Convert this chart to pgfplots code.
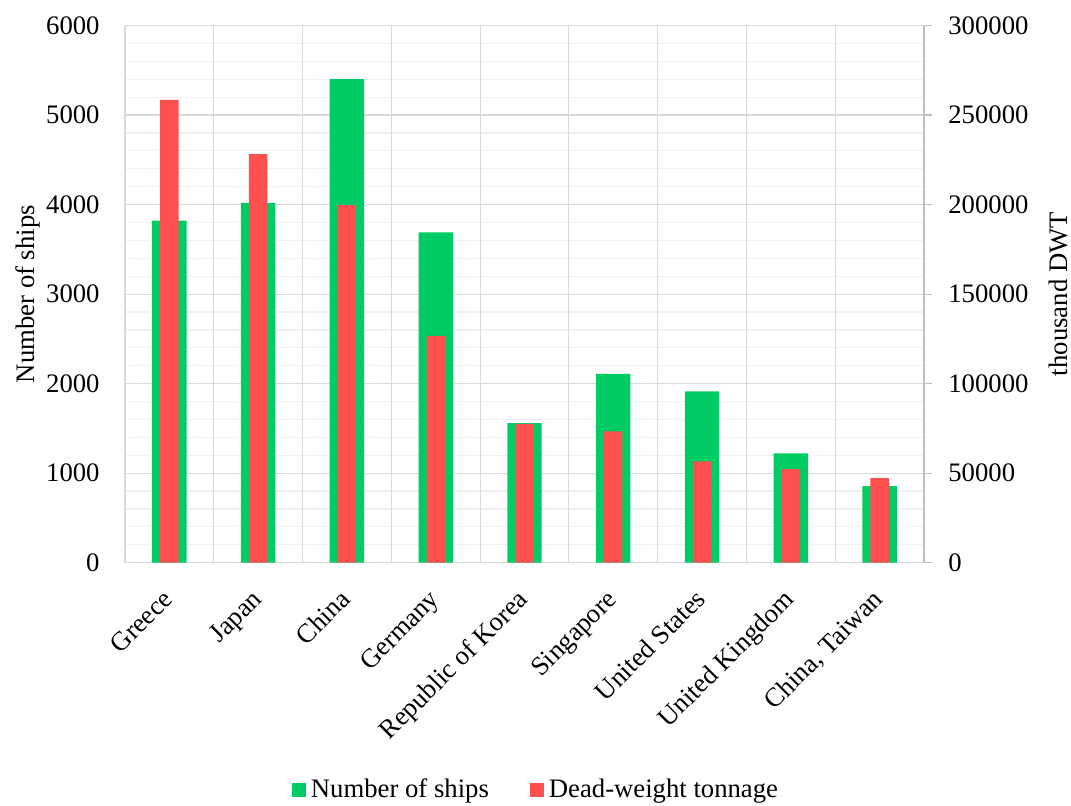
\documentclass[border=0pt]{standalone}
\usepackage{fontspec}
\setmainfont{Liberation Serif}
\usepackage{pgfplots}
\pgfplotsset{compat=1.18}

\definecolor{shipgreen}{RGB}{0,204,102}
\definecolor{dwtred}{RGB}{255,80,80}
\definecolor{gridmajor}{RGB}{217,217,217}
\definecolor{gridminor}{RGB}{240,240,240}
\definecolor{axisgray}{RGB}{191,191,191}

\begin{document}
\begin{tikzpicture}[font=\fontsize{13.35}{16}\selectfont]
\path[use as bounding box] (-62.5pt,-121.15pt) rectangle (473pt,281.35pt);

% number of ships, left scale
\begin{axis}[
  scale only axis, width=399.5pt, height=268.6pt,
  xmin=-0.5, xmax=8.5, ymin=0, ymax=6000,
  axis line style={draw=gridmajor, line width=0.6pt},
  x axis line style={draw=axisgray!80},
  tick style={draw=none},
  xtick={0,...,8},
  xticklabels={Greece, Japan, China, Germany, Republic of Korea, Singapore, United States, United Kingdom, {China, Taiwan}},
  xticklabel style={xshift=2.5pt, yshift=-19pt, rotate=45, anchor=base east, inner sep=0pt},
  extra x ticks={0.5,1.5,...,7.5},
  extra x tick labels={},
  extra x tick style={grid=major, major grid style={draw=gridmajor, line width=0.6pt}},
  ytick={0,1000,...,6000},
  minor ytick={200,400,...,5800},
  ymajorgrids, yminorgrids,
  major grid style={draw=gridmajor, line width=0.6pt},
  minor grid style={draw=gridminor, line width=0.6pt},
  yticklabel style={anchor=east, inner sep=0pt, xshift=-12.5pt},
  /pgf/number format/assume math mode=true,
  /pgf/number format/1000 sep={},
  ylabel={Number of ships},
  ylabel style={at={(axis description cs:-0.1215,0.5)}, anchor=center},
]
\addplot[ybar, bar width=17.2pt, bar shift=0pt, fill=shipgreen, draw=none]
  coordinates {(0,3820) (1,4020) (2,5400) (3,3690) (4,1560) (5,2110) (6,1915) (7,1220) (8,855)};
\end{axis}

% dead-weight tonnage, right scale
\begin{axis}[
  scale only axis, width=399.5pt, height=268.6pt,
  xmin=-0.5, xmax=8.5, ymin=0, ymax=300000,
  axis x line=none,
  axis y line*=right,
  y axis line style={draw=axisgray, line width=0.6pt},
  ytick={0,50000,...,300000},
  tick align=outside,
  major tick length=4pt,
  tick style={draw=axisgray, line width=0.6pt},
  scaled y ticks=false,
  yticklabel style={anchor=west, inner sep=0pt, xshift=8pt},
  /pgf/number format/assume math mode=true,
  /pgf/number format/1000 sep={},
  /pgf/number format/fixed,
  ylabel={thousand DWT},
  ylabel style={at={(axis description cs:1.1677,0.5)}, anchor=center},
  legend columns=2,
  legend style={at={(axis description cs:0.515,-0.423)}, anchor=center,
    draw=none, fill=none, nodes={inner sep=1.5pt},
    /tikz/every even column/.append style={column sep=19pt}},
  legend image code/.code={\fill[#1, draw=none] (0pt,-3.5pt) rectangle (7pt,3.5pt);},
  legend cell align=left,
]
\addlegendimage{fill=shipgreen, draw=none}
\addlegendentry{\hspace{1pt}Number of ships}
\addplot[ybar, bar width=9.2pt, bar shift=0pt, fill=dwtred, draw=none, forget plot]
  coordinates {(0,258500) (1,228200) (2,199700) (3,126700) (4,77500) (5,73400) (6,56600) (7,52200) (8,47200)};
\addlegendimage{fill=dwtred, draw=none}
\addlegendentry{\hspace{1pt}Dead-weight tonnage}
\end{axis}
\end{tikzpicture}
\end{document}
